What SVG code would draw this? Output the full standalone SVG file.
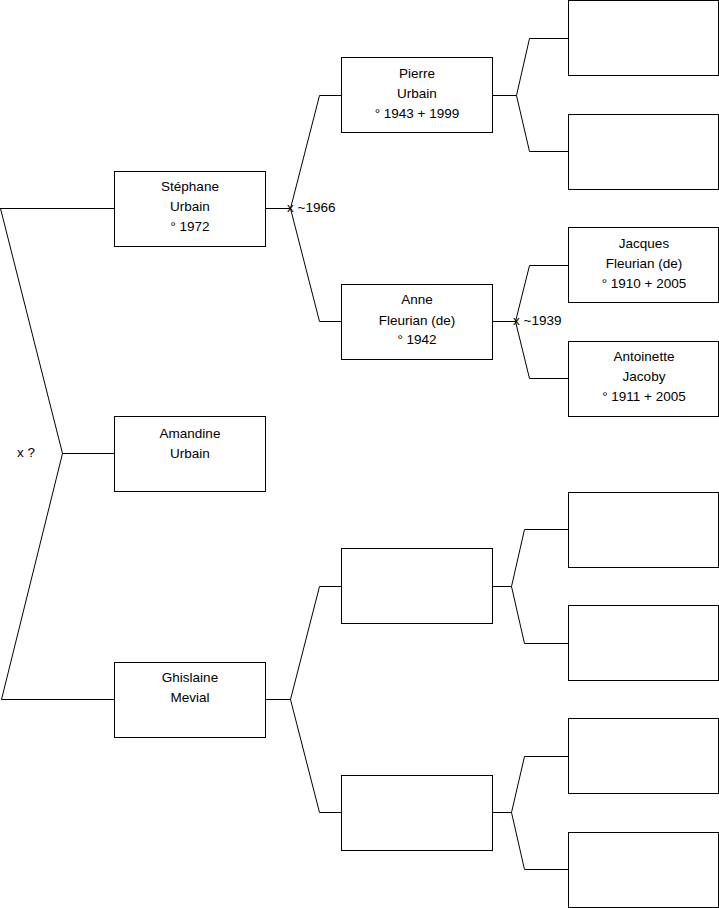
<svg xmlns="http://www.w3.org/2000/svg" width="719" height="908" viewBox="0 0 719 908">
<style>
.box{fill:#fff;stroke:#000;stroke-width:1}
.ln{fill:none;stroke:#000;stroke-width:1}
text{font-family:"Liberation Sans",Arial,sans-serif;font-size:13.5px;fill:#000}
.c{text-anchor:middle}
</style>
<rect width="719" height="908" fill="#fff"/>
<g id="connectors">
<path class="ln" d="M0,208.5 H114 M0.5,208.5 L62.5,453.5 L1.5,699.5 H114 M62.5,453.5 H114"/>
<path class="ln" d="M265,208.5 H290.5 M319.5,95.5 L290.5,208.5 L319.5,321.5 M319.5,95.5 H341 M319.5,321.5 H341"/>
<path class="ln" d="M492,95.5 H516.5 M529.5,38.5 L516.5,95.5 L529.5,151.5 M529.5,38.5 H568 M529.5,151.5 H568"/>
<path class="ln" d="M492,321.5 H515.5 M529.5,265.5 L515.5,321.5 L529.5,378.5 M529.5,265.5 H568 M529.5,378.5 H568"/>
<path class="ln" d="M265,699.5 H290.5 M319.5,586.5 L290.5,699.5 L319.5,812.5 M319.5,586.5 H341 M319.5,812.5 H341"/>
<path class="ln" d="M492,586.5 H511.5 M524.5,529.5 L511.5,586.5 L524.5,643.5 M524.5,529.5 H568 M524.5,643.5 H568"/>
<path class="ln" d="M492,812.5 H511.5 M524.5,756.5 L511.5,812.5 L524.5,869.5 M524.5,756.5 H568 M524.5,869.5 H568"/>
<text x="17" y="457">x ?</text>
<text x="287" y="212">x ~1966</text>
<text x="513" y="325">x ~1939</text>
</g>
<g id="stephane"><rect class="box" x="114.5" y="171.5" width="151" height="75"/><text class="c" x="190" y="191">Stéphane</text><text class="c" x="190" y="211">Urbain</text><text class="c" x="190" y="231">° 1972</text></g>
<g id="amandine"><rect class="box" x="114.5" y="416.5" width="151" height="75"/><text class="c" x="190" y="438">Amandine</text><text class="c" x="190" y="458">Urbain</text></g>
<g id="ghislaine"><rect class="box" x="114.5" y="662.5" width="151" height="75"/><text class="c" x="190" y="682">Ghislaine</text><text class="c" x="190" y="702">Mevial</text></g>
<g id="pierre"><rect class="box" x="341.5" y="57.5" width="151" height="75"/><text class="c" x="417" y="78">Pierre</text><text class="c" x="417" y="98">Urbain</text><text class="c" x="417" y="118">° 1943 + 1999</text></g>
<g id="anne"><rect class="box" x="341.5" y="284.5" width="151" height="75"/><text class="c" x="417" y="304">Anne</text><text class="c" x="417" y="325">Fleurian (de)</text><text class="c" x="417" y="344">° 1942</text></g>
<g id="m1"><rect class="box" x="341.5" y="548.5" width="151" height="75"/></g>
<g id="m2"><rect class="box" x="341.5" y="775.5" width="151" height="75"/></g>
<g id="pp1"><rect class="box" x="568.5" y="0.5" width="150" height="75"/></g>
<g id="pp2"><rect class="box" x="568.5" y="114.5" width="150" height="75"/></g>
<g id="jacques"><rect class="box" x="568.5" y="227.5" width="150" height="75"/><text class="c" x="644" y="248">Jacques</text><text class="c" x="644" y="268">Fleurian (de)</text><text class="c" x="644" y="288">° 1910 + 2005</text></g>
<g id="antoinette"><rect class="box" x="568.5" y="341.5" width="150" height="75"/><text class="c" x="644" y="361">Antoinette</text><text class="c" x="644" y="381">Jacoby</text><text class="c" x="644" y="401">° 1911 + 2005</text></g>
<g id="mm1"><rect class="box" x="568.5" y="492.5" width="150" height="75"/></g>
<g id="mm2"><rect class="box" x="568.5" y="605.5" width="150" height="75"/></g>
<g id="mm3"><rect class="box" x="568.5" y="718.5" width="150" height="75"/></g>
<g id="mm4"><rect class="box" x="568.5" y="832.5" width="150" height="75"/></g>
</svg>
